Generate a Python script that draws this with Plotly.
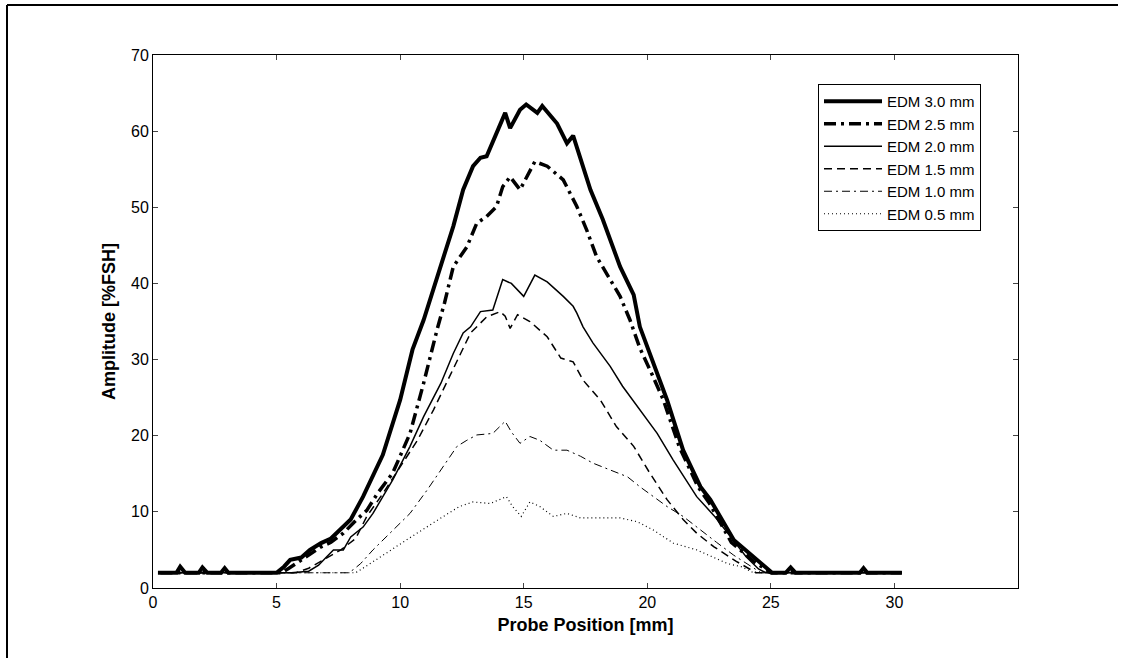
import plotly.graph_objects as go

# ---- data ----
x_30 = [0.2, 0.95, 1.1, 1.3, 1.85, 2.0, 2.2, 2.75, 2.9, 3.05, 5.0, 5.3, 5.55, 6.0, 6.35, 6.8, 7.2, 7.6, 8.0, 8.5,
        9.3, 10.0, 10.5, 10.95, 11.2, 11.35, 11.75, 12.15, 12.55, 12.95, 13.25, 13.5, 14.25, 14.45, 14.85, 15.1,
        15.55, 15.75, 16.35, 16.75, 17.0, 17.2, 17.7, 18.2, 18.9, 19.45, 19.7, 20.8, 21.45, 22.15, 22.55, 23.5,
        24.45, 24.9, 25.05, 25.6, 25.8, 26.0, 28.6, 28.75, 28.9, 30.3]
y_30 = [2, 2, 2.8, 2, 2, 2.7, 2, 2, 2.6, 2, 2, 2.8, 3.7, 4.0, 5.0, 5.9, 6.5, 7.8, 9.0, 12.0,
        17.5, 24.7, 31.3, 35.2, 37.8, 39.6, 43.5, 47.5, 52.3, 55.4, 56.5, 56.7, 62.4, 60.4, 62.8, 63.5,
        62.4, 63.3, 61.0, 58.4, 59.4, 57.3, 52.3, 48.4, 42.2, 38.5, 34.3, 24.7, 18.1, 13.3, 11.6, 6.3,
        3.7, 2.4, 2, 2, 2.7, 2, 2, 2.6, 2, 2]

x_25 = [0.3, 5.2, 5.5, 5.9, 6.3, 6.8, 7.2, 7.7, 8.25, 8.65, 9.1, 9.7, 10.4, 10.95, 11.5, 11.8, 12.15, 12.7,
        13.1, 13.5, 13.9, 14.15, 14.45, 14.85, 15.45, 15.95, 16.6, 17.15, 17.55, 17.95, 18.5, 18.9, 19.3,
        19.7, 20.2, 20.65, 21.3, 22.05, 22.5, 23.4, 24.3, 24.8, 25.0, 30.3]
y_25 = [2, 2, 2.6, 3.5, 4.3, 5.4, 6.0, 7.2, 9.0, 10.2, 12.5, 15.1, 20.3, 26.9, 34.0, 37.5, 42.2, 44.8,
        47.9, 48.8, 50.1, 52.7, 54.0, 52.3, 56.0, 55.4, 53.6, 50.1, 47.0, 43.5, 40.5, 38.3, 35.2,
        31.5, 28.0, 24.7, 18.5, 13.3, 11.2, 6.0, 3.5, 2.4, 2, 2]

x_20 = [0.3, 5.6, 6.3, 6.7, 7.0, 7.3, 7.7, 8.0, 8.5, 8.9, 9.7, 10.4, 10.95, 11.65, 12.15, 12.55, 12.85, 13.25,
        13.75, 14.15, 14.5, 15.0, 15.45, 15.95, 16.6, 17.0, 17.15, 17.4, 17.8, 18.5, 19.0, 19.7, 20.4, 21.05,
        21.5, 22.0, 22.7, 23.3, 24.0, 24.5, 24.8, 30.3]
y_20 = [2, 2, 2.2, 3.0, 4.0, 5.0, 5.0, 6.7, 8.0, 9.8, 14.2, 18.6, 22.5, 26.9, 30.8, 33.5, 34.3, 36.3,
        36.5, 40.5, 40.0, 38.3, 41.1, 40.2, 38.3, 37.0, 36.1, 34.3, 32.2, 29.1, 26.5, 23.4, 20.3, 16.8,
        14.5, 12.0, 9.5, 7.0, 4.1, 2.5, 2, 2]

x_15 = [0.3, 5.8, 6.3, 6.8, 7.2, 7.6, 8.2, 8.65, 9.3, 10.0, 10.7, 11.35, 12.0, 12.85, 13.5, 14.05, 14.25,
        14.45, 14.75, 15.25, 15.95, 16.5, 17.0, 17.4, 18.1, 18.75, 19.45, 20.1, 20.8, 21.45, 22.0, 22.7,
        23.6, 24.2, 24.4, 30.3]
y_15 = [2, 2, 2.6, 3.5, 4.2, 5.0, 6.5, 9.4, 12.4, 15.9, 19.4, 23.4, 27.8, 33.5, 35.6, 36.3, 35.7,
        34.1, 35.9, 35.0, 33.0, 30.2, 29.7, 27.3, 24.7, 21.2, 18.6, 15.1, 11.6, 9.0, 7.2, 5.4,
        3.5, 2.4, 2, 2]

x_10 = [0.3, 7.9, 8.1, 8.4, 8.9, 9.6, 10.4, 11.1, 11.75, 12.3, 12.7, 13.1, 13.75, 14.05, 14.25, 14.5, 14.85,
        15.25, 15.65, 16.2, 16.75, 17.3, 17.8, 18.5, 19.2, 19.7, 20.25, 20.8, 21.45, 22.15, 22.8, 23.5, 24.1,
        24.6, 30.3]
y_10 = [2, 2, 2.4, 3.2, 5.0, 7.2, 9.8, 12.9, 15.9, 18.6, 19.4, 20.1, 20.3, 21.2, 21.9, 20.5, 19.0,
        19.9, 19.4, 18.1, 18.1, 17.3, 16.4, 15.5, 14.6, 13.3, 12.0, 10.7, 9.4, 7.6, 6.0, 4.3, 3.0,
        2, 2]

x_05 = [0.3, 8.2, 8.4, 8.8, 9.45, 10.25, 11.1, 11.75, 12.4, 12.95, 13.65, 14.3, 14.55, 14.9, 15.25, 15.65,
        16.2, 16.75, 17.3, 18.1, 18.9, 19.6, 20.25, 21.05, 22.0, 23.25, 23.8, 24.3, 30.3]
y_05 = [2, 2, 2.4, 3.2, 4.6, 6.3, 8.1, 9.4, 10.7, 11.3, 11.1, 12.0, 10.7, 9.4, 11.3, 10.7,
        9.4, 9.8, 9.2, 9.2, 9.2, 8.7, 7.6, 5.9, 5.0, 3.2, 2.8, 2, 2]

names = ["EDM 3.0 mm", "EDM 2.5 mm", "EDM 2.0 mm", "EDM 1.5 mm", "EDM 1.0 mm", "EDM 0.5 mm"]
xs = [x_30, x_25, x_20, x_15, x_10, x_05]
ys = [y_30, y_25, y_20, y_15, y_10, y_05]
widths = [4, 3.5, 1.5, 1.5, 1, 1.2]
dashes = ["solid", "12px,5px,3px,5px", "solid", "8px,5px", "8px,4px,2px,4px", "1px,3px"]

x_ticks = [0, 5, 10, 15, 20, 25, 30]
y_ticks = [0, 10, 20, 30, 40, 50, 60, 70]

FONT = "Liberation Sans, Arial, sans-serif"

fig = go.Figure()
for n, xv, yv, w, d in zip(names, xs, ys, widths, dashes):
    fig.add_trace(go.Scatter(x=xv, y=yv, mode="lines", name=n,
                             line=dict(color="black", width=w, dash=d)))

# plot area: left 153, right 1018, top 55, bottom 588
L, R, T, B = 153, 1018, 55, 588
W, H = 1122, 658
pw, ph = R - L, B - T

def px_x(p):
    return (p - L) / pw

def px_y(p):
    return (B - p) / ph

fig.update_layout(
    width=W, height=H,
    margin=dict(l=L, r=W - R, t=T, b=H - B),
    paper_bgcolor="white", plot_bgcolor="white",
    font=dict(family=FONT, color="black", size=16),
    showlegend=True,
    legend=dict(x=px_x(818), y=px_y(84), xanchor="left", yanchor="top",
                bordercolor="black", borderwidth=1, bgcolor="white",
                font=dict(size=15, family=FONT), itemwidth=58,
                tracegroupgap=0),
    xaxis=dict(range=[0, 35], tickvals=x_ticks, ticks="inside", ticklen=5,
               showline=True, linecolor="black", linewidth=1, mirror="ticks",
               showgrid=False, zeroline=False, tickfont=dict(size=16),
               title=dict(text="<b>Probe Position [mm]</b>", font=dict(size=18), standoff=8)),
    yaxis=dict(range=[0, 70], tickvals=y_ticks, ticks="inside", ticklen=5,
               showline=True, linecolor="black", linewidth=1, mirror="ticks",
               showgrid=False, zeroline=False, tickfont=dict(size=16),
               title=dict(text="<b>Amplitude [%FSH]</b>", font=dict(size=18), standoff=10)),
)

# outer frame of the scanned figure (left and top edges)
fig.add_shape(type="line", xref="paper", yref="paper",
              x0=px_x(7), x1=px_x(7), y0=px_y(5), y1=px_y(700),
              line=dict(color="black", width=2))
fig.add_shape(type="line", xref="paper", yref="paper",
              x0=px_x(7), x1=px_x(1118), y0=px_y(5), y1=px_y(5),
              line=dict(color="black", width=2))

fig.write_html("out.html", config={"displayModeBar": False},
               post_script="document.body.style.margin='0px';document.body.style.overflow='hidden';")
